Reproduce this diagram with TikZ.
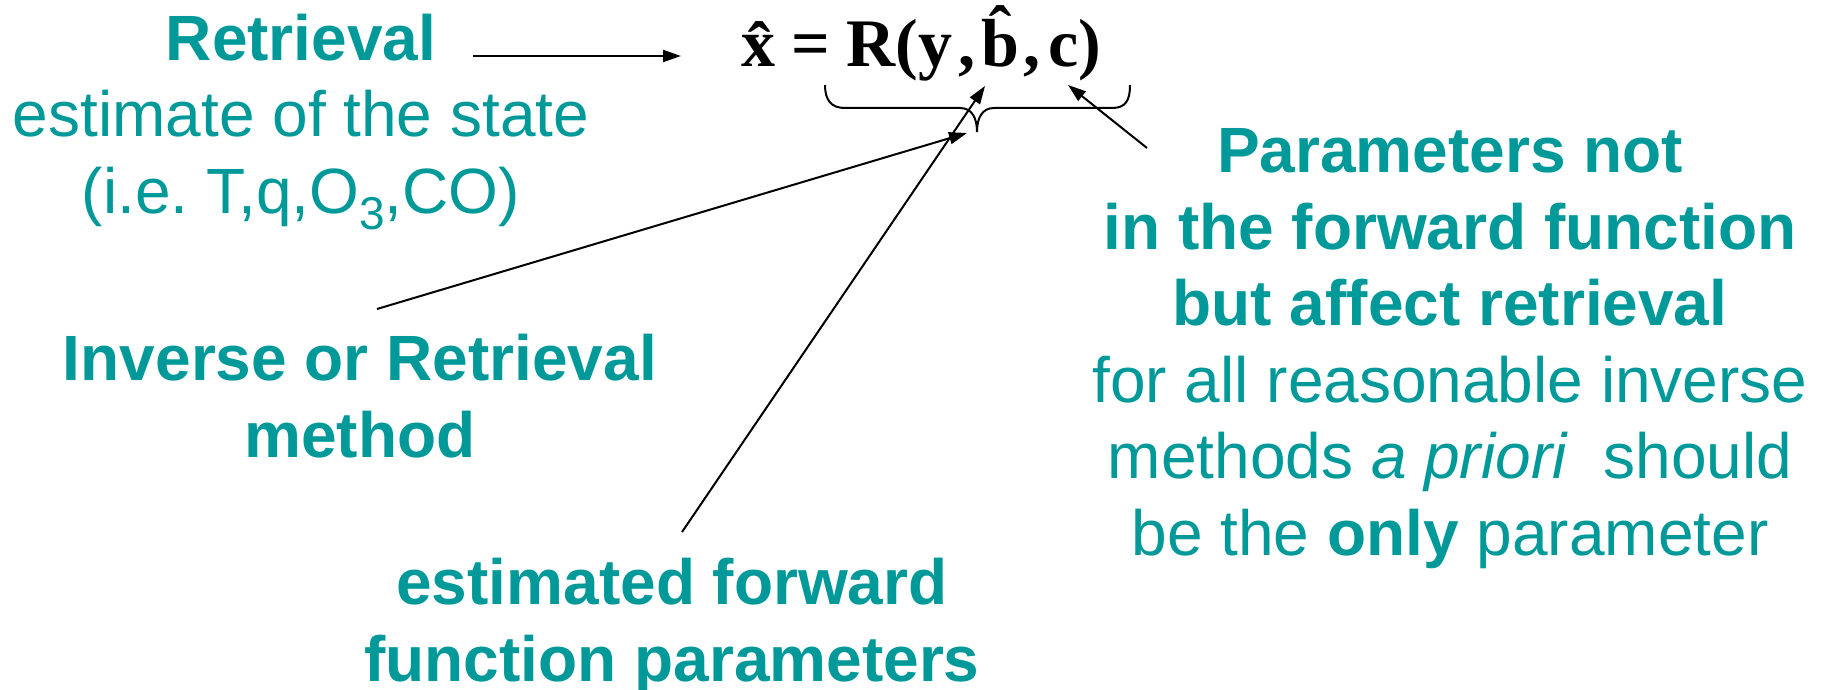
\documentclass[tikz,border=0pt]{standalone}
\usepackage{fontspec}
\setmainfont{Liberation Sans}
\newfontfamily\tnr{Liberation Serif}
\usetikzlibrary{arrows.meta}
\definecolor{labelteal}{RGB}{0,153,153}
\frenchspacing
\begin{document}
\begin{tikzpicture}[x=0.5pt,y=-0.5pt,
  lbl/.style={text=labelteal, align=center, inner sep=0pt, anchor=base,
    font=\fontsize{32}{38.25}\selectfont},
  conn/.style={line width=1pt, -{Triangle[length=9pt,width=6pt]}},
  bracestyle/.style={line width=1pt}]
\fill[white] (0,0) rectangle (1824,690);
\useasboundingbox (0,0) rectangle (1824,690);

% text blocks (anchored at the baseline of their last line)
\node[lbl] (retr) at (301,213) {\textbf{Retrieval}\\estimate of the state\\(i.e.\ T,q,O\raisebox{-8pt}{\fontsize{23}{23}\selectfont 3},CO)};
\node[lbl] (inv) at (360,457) {\textbf{Inverse or Retrieval}\\\textbf{method}};
\node[lbl] (est) at (672,681) {\textbf{estimated forward}\\\textbf{function parameters}};
\node[lbl] (par) at (1450,555) {\textbf{Parameters not}\\\textbf{in the forward function}\\\textbf{but affect retrieval}\\for all reasonable inverse\\methods \textit{a priori}\ \ should\\be the \textbf{only} parameter};

% equation
\node[anchor=base west, inner sep=0pt, font=\tnr\bfseries\fontsize{34}{34}\selectfont] (eq) at (741,67)
  {\^{x}\hspace{8pt}=\hspace{8pt}R(\hspace{0.5pt}y\hspace{3pt},\hspace{3pt}\^{b}\hspace{2pt},\hspace{4pt}c)};

% brace
\draw[bracestyle] (825,85) .. controls (825,100) and (831,108) .. (845,108) -- (960,108)
  .. controls (972,108) and (977,118) .. (977,132)
  .. controls (977,118) and (982,108) .. (994,108) -- (1112,108)
  .. controls (1126,108) and (1130,100) .. (1130,85);

% connector end points
\coordinate (r0) at (473,56);
\coordinate (r1) at (681,56);
\coordinate (i0) at (377,309);
\coordinate (i1) at (967,133);
\coordinate (e0) at (682,532);
\coordinate (e1) at (985,86);
\coordinate (p0) at (1147,148);
\coordinate (p1) at (1068,85);

\draw[conn] (r0) -- (r1);
\draw[conn] (i0) -- (i1);
\draw[conn] (e0) -- (e1);
\draw[conn] (p0) -- (p1);
\end{tikzpicture}
\end{document}
